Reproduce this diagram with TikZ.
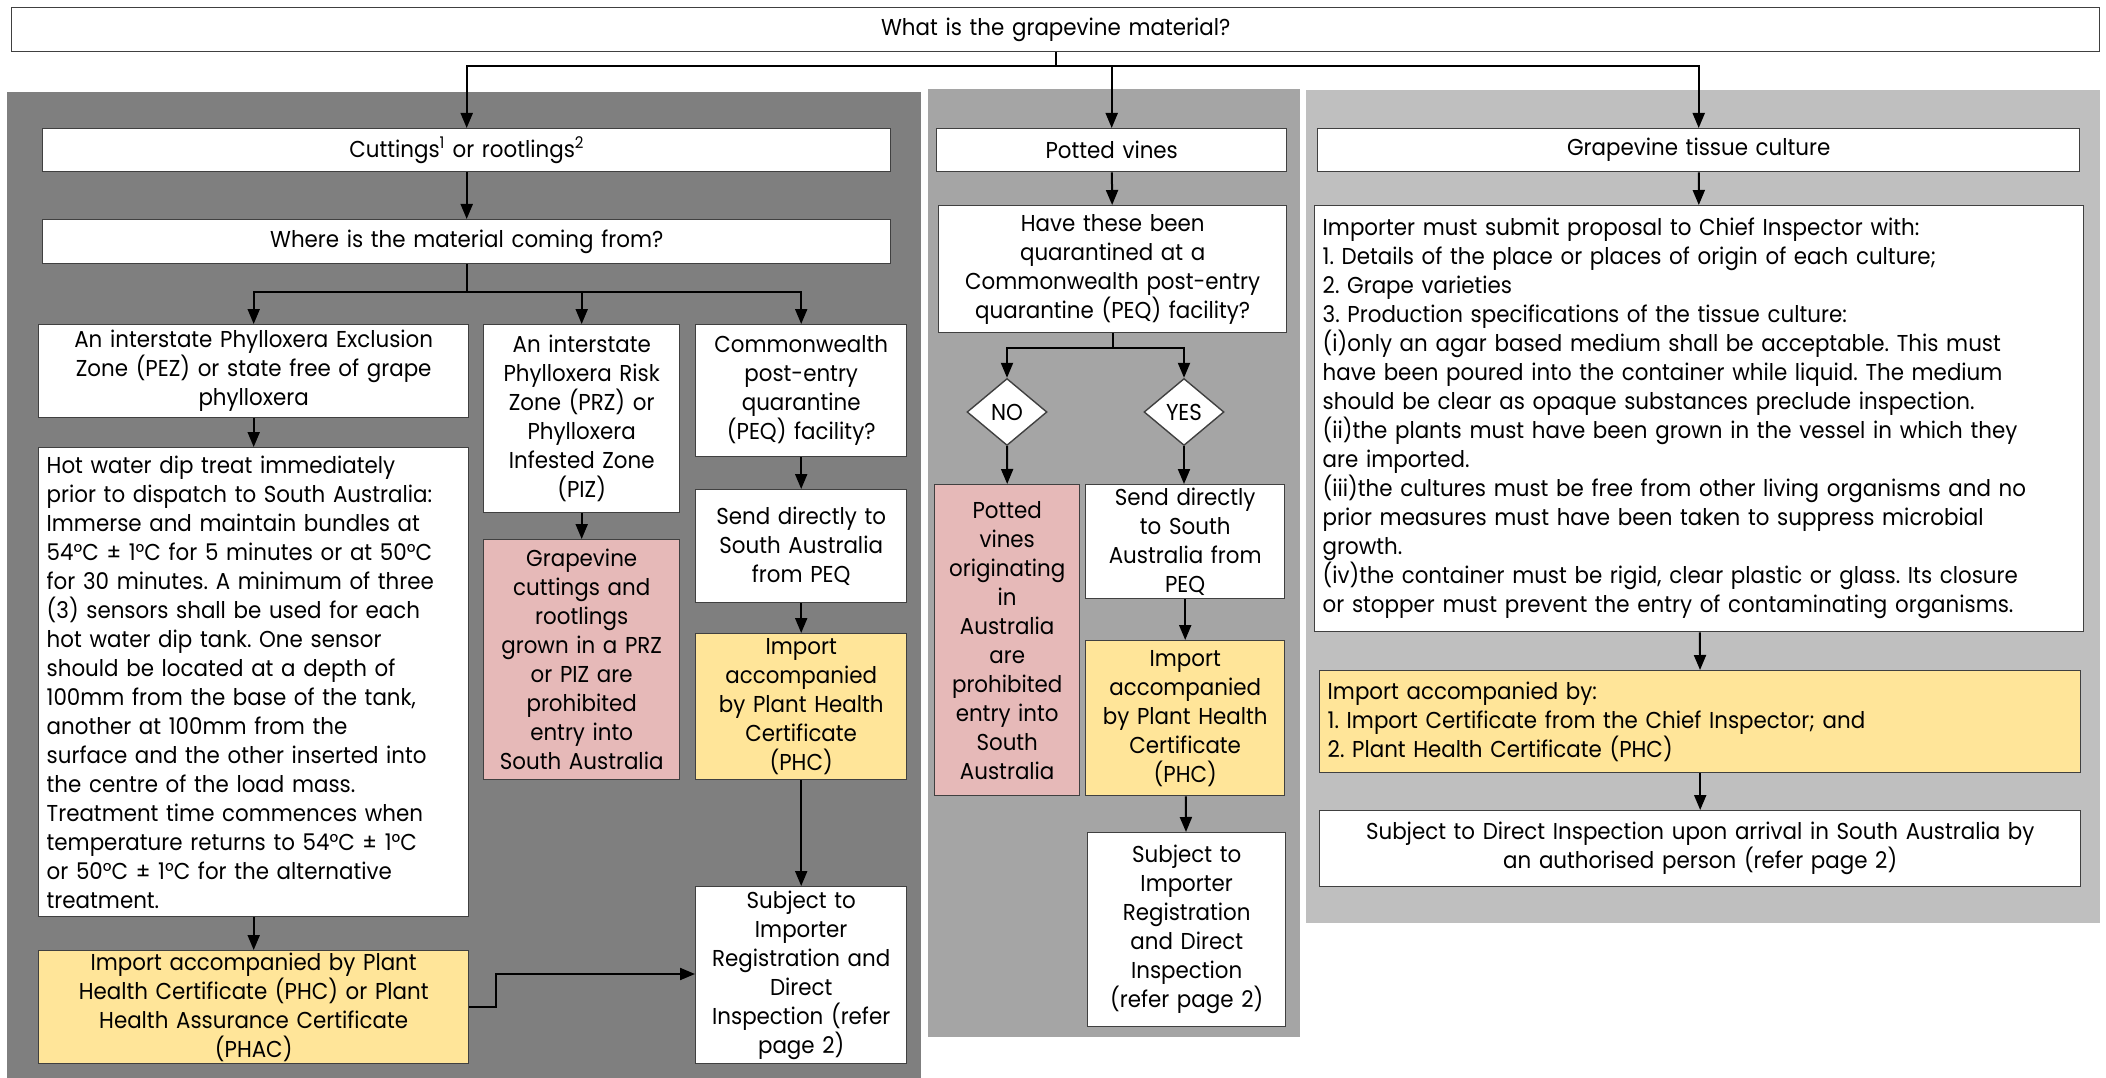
\documentclass[tikz,border=0pt]{standalone}
\usepackage{fontspec}
\setmainfont{Poppins}[FakeStretch=0.93]
\usetikzlibrary{arrows.meta,shapes.geometric}

\definecolor{paneldark}{HTML}{7F7F7F}
\definecolor{panelmid}{HTML}{A5A5A5}
\definecolor{panellight}{HTML}{BFBFBF}
\definecolor{boxpink}{HTML}{E6B9B8}
\definecolor{boxyellow}{HTML}{FFE599}
\definecolor{edgegray}{HTML}{404040}

% box text: no hyphenation, single spaces after full stops
\newcommand\mainfs{\fontsize{23}{29}\selectfont\frenchspacing\lefthyphenmin=64 }

% \place[style]{name}{x1}{y1}{x2}{y2}{text}: box given by its corners
\newcommand\place[7][]{%
  \pgfmathsetmacro\bw{#5-#3}%
  \pgfmathsetmacro\bh{#6-#4}%
  \pgfmathsetmacro\tw{#5-#3-16}%
  \node[box,#1,anchor=north west,minimum width=\bw pt,minimum height=\bh pt,
        text width=\tw pt] (#2) at (#3,#4) {#7};}

\begin{document}
\begin{tikzpicture}[x=1pt,y=-1pt,
  box/.style={draw=edgegray,line width=1.4pt,fill=white,align=center,
              inner sep=0pt,font=\mainfs},
  pinkbox/.style={fill=boxpink},
  yellowbox/.style={fill=boxyellow},
  leftbox/.style={align=left},
  decision/.style={diamond,draw=edgegray,line width=1.4pt,fill=white,
              aspect=1.2,minimum width=80pt,minimum height=67pt,inner sep=0pt,
              font=\mainfs},
  arr/.style={line width=2pt,-{Triangle[length=15pt,width=12pt]}},
  line/.style={line width=2pt}]

\useasboundingbox (0,0) rectangle (2106,1078);
\fill[white] (0,0) rectangle (2106,1078);

% background panels
\fill[paneldark]  (7,92)    rectangle (921,1078);
\fill[panelmid]   (928,89)  rectangle (1300,1037);
\fill[panellight] (1306,90) rectangle (2100,923);

% top question
\place{top}{11}{7}{2099}{51}{What is the grapevine material?}

% ---- cuttings and rootlings
\place{cut}{42}{128}{890}{171}{Cuttings\textsuperscript{1} or rootlings\textsuperscript{2}}
\place{where}{42}{219}{890}{263}{Where is the material coming from?}
\place{pez}{38}{324}{468}{417}{An interstate Phylloxera Exclusion\\Zone (PEZ) or state free of grape\\phylloxera}
\place[leftbox]{hot}{38}{447}{468}{916}{Hot water dip treat immediately\\
prior to dispatch to South Australia:\\
Immerse and maintain bundles at\\
54°C ± 1°C for 5 minutes or at 50°C\\
for 30 minutes. A minimum of three\\
(3) sensors shall be used for each\\
hot water dip tank. One sensor\\
should be located at a depth of\\
100mm from the base of the tank,\\
another at 100mm from the\\
surface and the other inserted into\\
the centre of the load mass.\\
Treatment time commences when\\
temperature returns to 54°C ± 1°C\\
or 50°C ± 1°C for the alternative\\
treatment.}
\place[yellowbox]{phac}{38}{950}{468}{1063}{Import accompanied by Plant\\Health Certificate (PHC) or Plant\\Health Assurance Certificate\\(PHAC)}
\place{prz}{483}{324}{679}{512}{An interstate\\Phylloxera Risk\\Zone (PRZ) or\\Phylloxera\\Infested Zone\\(PIZ)}
\place[pinkbox]{prohib}{483}{539}{679}{779}{Grapevine\\cuttings and\\rootlings\\grown in a PRZ\\or PIZ are\\prohibited\\entry into\\South Australia}
\place{cw}{695}{324}{906}{456}{Commonwealth\\post-entry\\quarantine\\(PEQ) facility?}
\place{send}{695}{489}{906}{602}{Send directly to\\South Australia\\from PEQ}
\place[yellowbox]{imp}{695}{633}{906}{779}{Import\\accompanied\\by Plant Health\\Certificate\\(PHC)}
\place{subj}{695}{886}{906}{1063}{Subject to\\Importer\\Registration and\\Direct\\Inspection (refer\\page 2)}

% ---- potted vines
\place{pot}{936}{128}{1286}{171}{Potted vines}
\place{have}{938}{205}{1286}{332}{Have these been\\quarantined at a\\Commonwealth post-entry\\quarantine (PEQ) facility?}
\node[decision] (no)  at (1007,412) {NO};
\node[decision] (yes) at (1184,412) {YES};
\place[pinkbox]{potno}{934}{484}{1079}{795}{Potted\\vines\\originating\\in\\Australia\\are\\prohibited\\entry into\\South\\Australia}
\place{send2}{1085}{484}{1284}{598}{Send directly\\to South\\Australia from\\PEQ}
\place[yellowbox]{imp2}{1085}{640}{1284}{795}{Import\\accompanied\\by Plant Health\\Certificate\\(PHC)}
\place{subj2}{1087}{832}{1285}{1026}{Subject to\\Importer\\Registration\\and Direct\\Inspection\\(refer page 2)}

% ---- tissue culture
\place{tissue}{1317}{128}{2079}{171}{Grapevine tissue culture}
\place[leftbox]{importer}{1314}{205}{2083}{631}{Importer must submit proposal to Chief Inspector with:\\
1. Details of the place or places of origin of each culture;\\
2. Grape varieties\\
3. Production specifications of the tissue culture:\\
(i)only an agar based medium shall be acceptable. This must\\
have been poured into the container while liquid. The medium\\
should be clear as opaque substances preclude inspection.\\
(ii)the plants must have been grown in the vessel in which they\\
are imported.\\
(iii)the cultures must be free from other living organisms and no\\
prior measures must have been taken to suppress microbial\\
growth.\\
(iv)the container must be rigid, clear plastic or glass. Its closure\\
or stopper must prevent the entry of contaminating organisms.}
\place[leftbox,yellowbox]{imp3}{1319}{670}{2080}{772}{Import accompanied by:\\1. Import Certificate from the Chief Inspector; and\\2. Plant Health Certificate (PHC)}
\place{subj3}{1319}{810}{2080}{886}{Subject to Direct Inspection upon arrival in South Australia by\\an authorised person (refer page 2)}

% ---- connectors
\draw[arr] (top.south) -- ++(0,14) -| (cut.north);
\draw[arr] (top.south) -- ++(0,14) -| (pot.north);
\draw[arr] (top.south) -- ++(0,14) -| (tissue.north);

\draw[arr] (cut) -- (where);
\draw[arr] (where.south) -- ++(0,28) -| (pez.north);
\draw[arr] (where.south) -- ++(0,28) -| (prz.north);
\draw[arr] (where.south) -- ++(0,28) -| (cw.north);
\draw[arr] (pez) -- (hot);
\draw[arr] (hot) -- (phac);
\draw[arr] (prz) -- (prohib);
\draw[arr] (cw) -- (send);
\draw[arr] (send) -- (imp);
\draw[arr] (imp.south -| subj.north) -- (subj.north);
\draw[arr] (phac.east |- 0,1007) -- (496,1007) |- (subj.west |- 0,974);

\draw[arr] (pot) -- (have);
\draw[arr] (have.south) -- ++(0,15) -| (no.north);
\draw[arr] (have.south) -- ++(0,15) -| (yes.north);
\draw[arr] (no.south) -- (potno.north);
\draw[arr] (yes.south) -- (send2.north -| yes.south);
\draw[arr] (send2) -- (imp2);
\draw[arr] (imp2) -- (subj2);

\draw[arr] (tissue) -- (importer);
\draw[arr] (importer) -- (imp3);
\draw[arr] (imp3) -- (subj3);
\end{tikzpicture}
\end{document}
